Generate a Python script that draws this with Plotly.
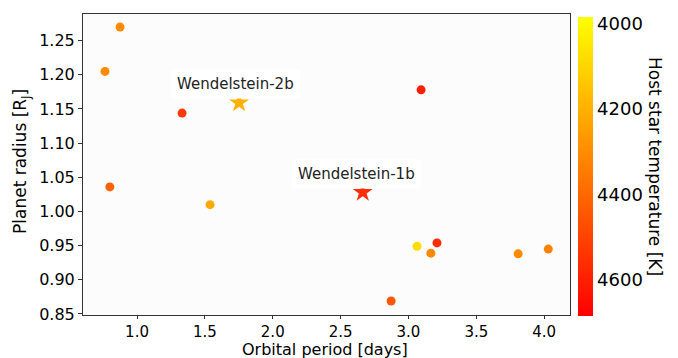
import plotly.graph_objects as go

# Data
period = [0.875, 0.764, 1.332, 3.093, 0.800, 1.538, 3.063, 3.210, 3.165, 2.872, 3.808, 4.030]
radius = [1.270, 1.205, 1.144, 1.178, 1.036, 1.010, 0.949, 0.954, 0.939, 0.869, 0.938, 0.945]
teff = [4300, 4300, 4530, 4600, 4420, 4220, 4080, 4560, 4310, 4450, 4310, 4330]

star_names = ["Wendelstein-2b", "Wendelstein-1b"]
star_period = [1.752, 2.663]
star_radius = [1.159, 1.028]
star_teff = [4200, 4560]

label_x = [1.722, 2.62]
label_y = [1.187, 1.055]

cb_ticks = [4000, 4200, 4400, 4600]
t_lo, t_hi = 3985, 4685

font = "DejaVu Sans"
cscale = [[0, "rgb(255,0,0)"], [1, "rgb(255,255,0)"]]

L, R, T, B = 83, 570, 14, 315
W, H = R - L, B - T


def px_x(p):
    return (p - L) / W


def px_y(p):
    return (B - p) / H


fig = go.Figure()
fig.add_trace(go.Scatter(
    x=period, y=radius, mode="markers",
    marker=dict(size=9, color=[-t for t in teff], colorscale=cscale,
                cmin=-t_hi, cmax=-t_lo, line=dict(width=0),
                colorbar=dict(
                    thickness=15, lenmode="pixels", len=299,
                    x=px_x(578), xanchor="left", xpad=0, ypad=0,
                    y=px_y(17), yanchor="top",
                    outlinewidth=0, ticks="", ticklabelposition="outside",
                    tickvals=[-t for t in cb_ticks],
                    ticktext=[str(t) for t in cb_ticks],
                    tickfont=dict(family=font, size=18, color="black"),
                )),
    showlegend=False,
))
fig.add_trace(go.Scatter(
    x=star_period, y=star_radius, mode="markers",
    marker=dict(size=15, symbol="star", color=[-t for t in star_teff],
                colorscale=cscale, cmin=-t_hi, cmax=-t_lo, line=dict(width=0),
                showscale=False),
    showlegend=False,
))

for name, lx, ly in zip(star_names, label_x, label_y):
    fig.add_annotation(x=lx, y=ly, text=name, showarrow=False,
                       font=dict(family=font, size=15, color="#222"),
                       bgcolor="white", borderpad=5)

fig.add_annotation(x=px_x(655), y=px_y(166), xref="paper", yref="paper",
                   xanchor="center", yanchor="middle",
                   text="Host star temperature [K]", textangle=90,
                   showarrow=False, font=dict(family=font, size=17, color="black"))
fig.add_annotation(x=px_x(325), y=px_y(349), xref="paper", yref="paper",
                   xanchor="center", yanchor="middle",
                   text="Orbital period [days]",
                   showarrow=False, font=dict(family=font, size=16, color="black"))
fig.add_annotation(x=px_x(21), y=px_y(162), xref="paper", yref="paper",
                   xanchor="center", yanchor="middle",
                   text="Planet radius [R<sub>J</sub>]", textangle=-90,
                   showarrow=False, font=dict(family=font, size=17, color="black"))

fig.update_layout(
    width=678, height=358,
    margin=dict(l=L, r=678 - R, t=T, b=358 - B, autoexpand=False),
    paper_bgcolor="white", plot_bgcolor="#fcfcfc",
    font=dict(family=font, color="black"),
    xaxis=dict(range=[0.602, 4.19], tickvals=[1.0, 1.5, 2.0, 2.5, 3.0, 3.5, 4.0],
               tickformat=".1f", showgrid=False, zeroline=False, automargin=False,
               showline=True, linecolor="#333", linewidth=1, mirror=True,
               ticks="outside", ticklen=3, tickcolor="#333",
               tickfont=dict(size=15)),
    yaxis=dict(range=[0.8485, 1.289],
               tickvals=[0.85, 0.90, 0.95, 1.00, 1.05, 1.10, 1.15, 1.20, 1.25],
               tickformat=".2f", showgrid=False, zeroline=False, automargin=False,
               showline=True, linecolor="#333", linewidth=1, mirror=True,
               ticks="outside", ticklen=4, tickcolor="#333",
               tickfont=dict(size=16)),
)

fig.write_html("out.html")
